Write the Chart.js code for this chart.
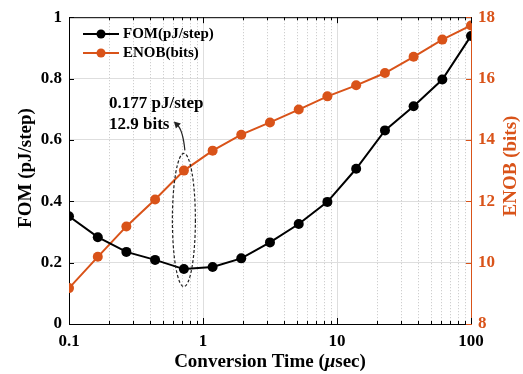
<!DOCTYPE html>
<html>
<head>
<meta charset="utf-8">
<script src="https://cdn.jsdelivr.net/npm/chart.js@4.4.0/dist/chart.umd.min.js"></script>
<style>
  html, body { margin: 0; padding: 0; background: #fff; }
  #wrap { width: 523px; height: 374px; }
</style>
</head>
<body>
<div id="wrap"><canvas id="chart" width="523" height="374"></canvas></div>
<script>
// data
const convTime   = [0.1, 0.164, 0.268, 0.439, 0.72, 1.18, 1.93, 3.16, 5.18, 8.48, 13.9, 22.8, 37.3, 61.1, 100];
const fomValues  = [0.351, 0.283, 0.235, 0.209, 0.179, 0.186, 0.214, 0.266, 0.326, 0.398, 0.506, 0.631, 0.71, 0.797, 0.939];
const enobValues = [9.17, 10.19, 11.18, 12.06, 13.0, 13.65, 14.17, 14.57, 14.99, 15.42, 15.78, 16.18, 16.71, 17.27, 17.73];
const xDecades   = [0.1, 1, 10, 100];
const fomTicks   = [0, 0.2, 0.4, 0.6, 0.8, 1];
const enobTicks  = [8, 10, 12, 14, 16, 18];
const seriesNames = ['FOM(pJ/step)', 'ENOB(bits)'];
const noteLines   = ['0.177 pJ/step', '12.9 bits'];

const ORANGE = '#D95319';
const SERIF  = '"Liberation Serif", "DejaVu Serif", serif';
const tickFont = { family: SERIF, size: 17, weight: 'bold' };

function isDecade(v) {
  return xDecades.some(d => Math.abs(v - d) < d * 1e-6);
}

// every 1..9 multiple between 0.1 and 100, for the log grid
function logTickValues() {
  const out = [];
  for (let i = 0; i < xDecades.length - 1; i++) {
    for (let m = 1; m <= 9; m++) out.push(+(xDecades[i] * m).toPrecision(3));
  }
  out.push(xDecades[xDecades.length - 1]);
  return out;
}

const extras = {
  id: 'extras',
  beforeDatasetsDraw(chart) {
    const ctx = chart.ctx, a = chart.chartArea, xs = chart.scales.x;
    ctx.save();
    // dotted minor grid
    ctx.strokeStyle = '#c4c4c4';
    ctx.lineWidth = 1;
    ctx.setLineDash([1, 2]);
    logTickValues().forEach(v => {
      if (isDecade(v)) return;
      const px = Math.round(xs.getPixelForValue(v)) + 0.5;
      ctx.beginPath(); ctx.moveTo(px, a.top); ctx.lineTo(px, a.bottom); ctx.stroke();
    });
    ctx.setLineDash([]);
    ctx.restore();
  },
  afterDraw(chart) {
    const ctx = chart.ctx, a = chart.chartArea;
    const xs = chart.scales.x, ys = chart.scales.y, yr = chart.scales.y1;
    ctx.save();

    // top frame line
    ctx.strokeStyle = '#000';
    ctx.lineWidth = 1;
    ctx.beginPath(); ctx.moveTo(a.left, a.top + 0.5); ctx.lineTo(a.right, a.top + 0.5); ctx.stroke();

    // inward ticks
    logTickValues().forEach(v => {
      const px = Math.round(xs.getPixelForValue(v)) + 0.5;
      const len = isDecade(v) ? 6 : 3;
      ctx.beginPath();
      ctx.moveTo(px, a.bottom); ctx.lineTo(px, a.bottom - len);
      ctx.moveTo(px, a.top); ctx.lineTo(px, a.top + len);
      ctx.stroke();
    });
    fomTicks.forEach(v => {
      const py = Math.round(ys.getPixelForValue(v)) + 0.5;
      ctx.beginPath(); ctx.moveTo(a.left, py); ctx.lineTo(a.left + 5, py); ctx.stroke();
    });
    ctx.strokeStyle = ORANGE;
    enobTicks.forEach(v => {
      const py = Math.round(yr.getPixelForValue(v)) + 0.5;
      ctx.beginPath(); ctx.moveTo(a.right, py); ctx.lineTo(a.right - 5, py); ctx.stroke();
    });

    // dashed ellipse round the minimum
    const cx = xs.getPixelForValue(convTime[4]);
    const yTop = ys.getPixelForValue(0.556), yBot = ys.getPixelForValue(0.122);
    ctx.strokeStyle = '#222';
    ctx.lineWidth = 1.2;
    ctx.setLineDash([3, 2]);
    ctx.beginPath();
    ctx.ellipse(cx, (yTop + yBot) / 2, 11.5, (yBot - yTop) / 2, 0, 0, Math.PI * 2);
    ctx.stroke();
    ctx.setLineDash([]);

    // curved arrow to the note
    ctx.beginPath();
    ctx.moveTo(cx + 1, yTop - 3);
    ctx.quadraticCurveTo(cx - 1, yTop - 24, cx - 7, yTop - 29);
    ctx.stroke();
    ctx.fillStyle = '#222';
    ctx.beginPath();
    ctx.moveTo(cx - 10, yTop - 32);
    ctx.lineTo(cx - 3, yTop - 30);
    ctx.lineTo(cx - 8, yTop - 25);
    ctx.closePath(); ctx.fill();

    // note text
    ctx.fillStyle = '#000';
    ctx.font = 'bold 17px ' + SERIF;
    ctx.textAlign = 'left';
    ctx.textBaseline = 'middle';
    ctx.fillText(noteLines[0], 109, 104);
    ctx.fillText(noteLines[1], 109, 125);

    // legend
    ctx.font = 'bold 15px ' + SERIF;
    const legendRows = [[34, '#000'], [53, ORANGE]];
    legendRows.forEach(([ly, col], i) => {
      ctx.strokeStyle = col; ctx.fillStyle = col; ctx.lineWidth = 2;
      ctx.beginPath(); ctx.moveTo(83, ly); ctx.lineTo(119, ly); ctx.stroke();
      ctx.beginPath(); ctx.arc(101, ly, 4.5, 0, Math.PI * 2); ctx.fill();
      ctx.fillStyle = '#000';
      ctx.fillText(seriesNames[i], 123, ly);
    });

    // axis titles
    ctx.font = 'bold 19px ' + SERIF;
    ctx.textAlign = 'center';
    ctx.save();
    ctx.translate(26, 168); ctx.rotate(-Math.PI / 2);
    ctx.fillStyle = '#000';
    ctx.fillText('FOM (pJ/step)', 0, 0);
    ctx.restore();
    ctx.save();
    ctx.translate(511, 166); ctx.rotate(-Math.PI / 2);
    ctx.fillStyle = ORANGE;
    ctx.fillText('ENOB (bits)', 0, 0);
    ctx.restore();

    // x title with italic mu
    const parts = [['Conversion Time (', 'bold 19px '], ['\u03bc', 'italic bold 19px '], ['sec)', 'bold 19px ']];
    let total = 0;
    parts.forEach(p => { ctx.font = p[1] + SERIF; total += ctx.measureText(p[0]).width; });
    let tx = 270 - total / 2;
    ctx.textAlign = 'left';
    ctx.fillStyle = '#000';
    parts.forEach(p => {
      ctx.font = p[1] + SERIF;
      ctx.fillText(p[0], tx, 362);
      tx += ctx.measureText(p[0]).width;
    });
    ctx.restore();
  }
};

new Chart(document.getElementById('chart'), {
  type: 'line',
  data: {
    datasets: [
      {
        label: seriesNames[0],
        data: convTime.map((t, i) => ({ x: t, y: fomValues[i] })),
        yAxisID: 'y',
        borderColor: '#000',
        backgroundColor: '#000',
        pointBackgroundColor: '#000',
        borderWidth: 2,
        pointRadius: 5,
        pointBorderWidth: 0
      },
      {
        label: seriesNames[1],
        data: convTime.map((t, i) => ({ x: t, y: enobValues[i] })),
        yAxisID: 'y1',
        borderColor: ORANGE,
        backgroundColor: ORANGE,
        pointBackgroundColor: ORANGE,
        borderWidth: 2,
        pointRadius: 5,
        pointBorderWidth: 0
      }
    ]
  },
  options: {
    responsive: false,
    animation: false,
    devicePixelRatio: 1,
    layout: { padding: { top: 13, left: 0, right: 0, bottom: 0 } },
    plugins: { legend: { display: false }, tooltip: { enabled: false } },
    scales: {
      x: {
        type: 'logarithmic',
        position: 'bottom',
        min: 0.1,
        max: 100,
        afterBuildTicks: s => { s.ticks = logTickValues().map(v => ({ value: v })); },
        afterFit: s => { s.height = 50; },
        ticks: {
          autoSkip: false,
          maxRotation: 0,
          color: '#000',
          font: tickFont,
          padding: 7,
          callback: v => isDecade(v) ? String(v) : ''
        },
        grid: {
          drawTicks: false,
          color: c => (c.tick && isDecade(c.tick.value)) ? '#dedede' : 'rgba(0,0,0,0)'
        },
        border: { color: '#000', width: 1 }
      },
      y: {
        position: 'left',
        min: 0,
        max: 1,
        afterBuildTicks: s => { s.ticks = fomTicks.map(v => ({ value: v })); },
        afterFit: s => { s.width = 69; },
        ticks: { color: '#000', font: tickFont, padding: 7, callback: v => String(v) },
        grid: { drawTicks: false, color: '#dedede' },
        border: { color: '#000', width: 1 }
      },
      y1: {
        position: 'right',
        min: 8,
        max: 18,
        afterBuildTicks: s => { s.ticks = enobTicks.map(v => ({ value: v })); },
        afterFit: s => { s.width = 52; },
        ticks: { color: ORANGE, font: tickFont, padding: 7, callback: v => String(v) },
        grid: { drawOnChartArea: false, drawTicks: false },
        border: { color: ORANGE, width: 1 }
      }
    }
  },
  plugins: [extras]
});
</script>
</body>
</html>
